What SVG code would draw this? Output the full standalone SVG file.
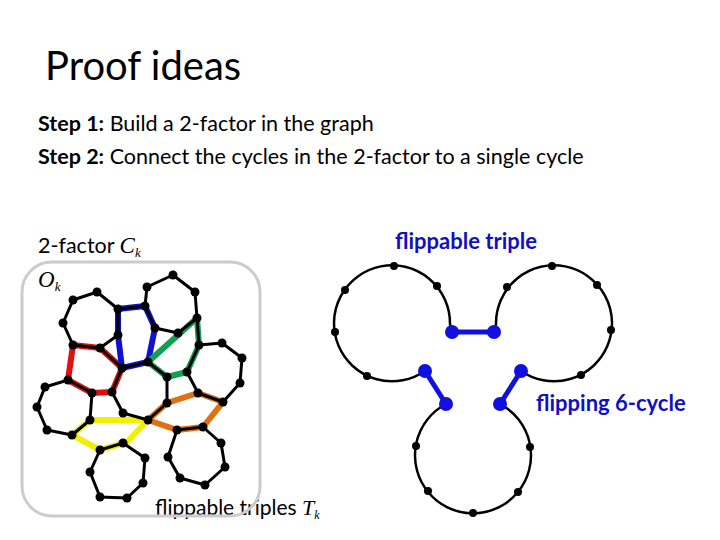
<svg xmlns="http://www.w3.org/2000/svg" width="720" height="540" viewBox="0 0 720 540">
<style>
.t{font-family:Lato,"Open Sans",sans-serif;fill:#000}
.m{font-family:"Liberation Serif",serif;font-style:italic}
.b{font-family:Lato,"Open Sans",sans-serif;font-weight:bold;fill:#1010c0;font-size:22px}
.e{stroke:#000;stroke-width:3;fill:none;stroke-linejoin:round}
.c{stroke:#000;stroke-width:2.5;fill:none}
.bl{stroke:#1010e0;stroke-width:5}
</style>
<rect width="720" height="540" fill="#fff"/>
<text class="t" x="45" y="80" font-size="40">Proof ideas</text>
<text class="t" x="38" y="131" font-size="21.5"><tspan font-weight="bold">Step 1:</tspan> Build a 2-factor in the graph</text>
<text class="t" x="38" y="164" font-size="21.5"><tspan font-weight="bold">Step 2:</tspan> Connect the cycles in the 2-factor to a single cycle</text>
<text class="t" x="38" y="253" font-size="21.5">2-factor <tspan class="m" font-size="23">C</tspan><tspan class="m" font-size="13" dy="4">k</tspan></text>
<text class="t m" x="38" y="287" font-size="23">O<tspan font-size="13" dy="4">k</tspan></text>
<text class="t" x="155" y="515" font-size="21">flippable triples <tspan class="m" font-size="22">T</tspan><tspan class="m" font-size="12" dy="4">k</tspan></text>
<rect x="22" y="262" width="238" height="254" rx="30" fill="none" stroke="#ccc" stroke-width="3"/>
<g id="colored" stroke-width="6" fill="none" stroke-linejoin="round">
<polygon points="73,345 68,380 92,393 112,392 122,368 100,348" stroke="#e01010"/>
<polygon points="118,309 145,306 155,328 148,362 122,368 118,335" stroke="#1010d0"/>
<polygon points="148,362 197,318 199,345 187,372 167,377" stroke="#10a050"/>
<polygon points="90,420 148,420 127,442 100,450 72,435" stroke="#f0f000"/>
<polygon points="148,420 167,403 198,393 223,402 203,427 177,430" stroke="#e07010"/>
</g>
<g id="graph" class="e">
<polygon points="97,292 73,300 63,323 73,345 100,348 118,335 118,309"/>
<polygon points="145,306 147,287 173,275 195,292 197,318 178,333 155,328"/>
<polygon points="148,362 167,377 167,403 148,420 123,413 112,392 122,368"/>
<polygon points="68,380 45,387 37,407 47,430 72,435 90,420 92,393"/>
<polygon points="100,450 123,443 145,458 143,483 127,498 100,497 90,472"/>
<polygon points="199,345 222,343 242,358 240,383 223,402 198,393 187,372"/>
<polygon points="203,427 177,430 168,457 180,478 205,485 225,467 221,443"/>
<line x1="118" y1="309" x2="145" y2="306"/>
<line x1="100" y1="348" x2="122" y2="368"/>
<line x1="197" y1="318" x2="199" y2="345"/>
</g>
<g id="gnodes" fill="#000">
<circle cx="97" cy="292" r="4.5"/><circle cx="73" cy="300" r="4.5"/><circle cx="63" cy="323" r="4.5"/><circle cx="73" cy="345" r="4.5"/><circle cx="100" cy="348" r="4.5"/><circle cx="118" cy="335" r="4.5"/><circle cx="118" cy="309" r="4.5"/>
<circle cx="145" cy="306" r="4.5"/><circle cx="147" cy="287" r="4.5"/><circle cx="173" cy="275" r="4.5"/><circle cx="195" cy="292" r="4.5"/><circle cx="197" cy="318" r="4.5"/><circle cx="178" cy="333" r="4.5"/><circle cx="155" cy="328" r="4.5"/>
<circle cx="148" cy="362" r="4.5"/><circle cx="167" cy="377" r="4.5"/><circle cx="167" cy="403" r="4.5"/><circle cx="148" cy="420" r="4.5"/><circle cx="123" cy="413" r="4.5"/><circle cx="112" cy="392" r="4.5"/><circle cx="122" cy="368" r="4.5"/>
<circle cx="68" cy="380" r="4.5"/><circle cx="45" cy="387" r="4.5"/><circle cx="37" cy="407" r="4.5"/><circle cx="47" cy="430" r="4.5"/><circle cx="72" cy="435" r="4.5"/><circle cx="90" cy="420" r="4.5"/><circle cx="92" cy="393" r="4.5"/>
<circle cx="100" cy="450" r="4.5"/><circle cx="123" cy="443" r="4.5"/><circle cx="145" cy="458" r="4.5"/><circle cx="143" cy="483" r="4.5"/><circle cx="127" cy="498" r="4.5"/><circle cx="100" cy="497" r="4.5"/><circle cx="90" cy="472" r="4.5"/>
<circle cx="199" cy="345" r="4.5"/><circle cx="222" cy="343" r="4.5"/><circle cx="242" cy="358" r="4.5"/><circle cx="240" cy="383" r="4.5"/><circle cx="223" cy="402" r="4.5"/><circle cx="198" cy="393" r="4.5"/><circle cx="187" cy="372" r="4.5"/>
<circle cx="177" cy="430" r="4.5"/><circle cx="203" cy="427" r="4.5"/><circle cx="168" cy="457" r="4.5"/><circle cx="180" cy="478" r="4.5"/><circle cx="205" cy="485" r="4.5"/><circle cx="225" cy="467" r="4.5"/><circle cx="221" cy="443" r="4.5"/>
</g>
<g id="cycles" class="c">
<path d="M425,371 A58,58 0 1 1 450,324 L452,332"/>
<path d="M521,371 A58,58 0 1 0 496,324 L494,332"/>
<path d="M446,404 A58,58 0 1 0 500,404"/>
</g>
<g id="flip">
<line class="bl" x1="452" y1="332" x2="494" y2="332"/>
<line class="bl" x1="425" y1="371" x2="446" y2="404"/>
<line class="bl" x1="521" y1="371" x2="500" y2="404"/>
</g>
<g id="cnodes" fill="#000">
<circle cx="394" cy="266" r="4"/><circle cx="437" cy="286" r="4"/><circle cx="345" cy="290" r="4"/><circle cx="335" cy="332" r="4"/><circle cx="367" cy="376" r="4"/>
<circle cx="552" cy="266" r="4"/><circle cx="597" cy="285" r="4"/><circle cx="507" cy="287" r="4"/><circle cx="611" cy="330" r="4"/><circle cx="581" cy="375" r="4"/>
<circle cx="416" cy="446" r="4"/><circle cx="530" cy="447" r="4"/><circle cx="428" cy="491" r="4"/><circle cx="518" cy="492" r="4"/><circle cx="473" cy="513" r="4"/>
<g fill="#1010e0"><circle cx="452" cy="332" r="7"/><circle cx="494" cy="332" r="7"/><circle cx="425" cy="371" r="7"/><circle cx="521" cy="371" r="7"/><circle cx="446" cy="404" r="7"/><circle cx="500" cy="404" r="7"/></g>
</g>
<text class="b" x="395" y="249">flippable triple</text>
<text class="b" x="536" y="411">flipping 6-cycle</text>
</svg>
